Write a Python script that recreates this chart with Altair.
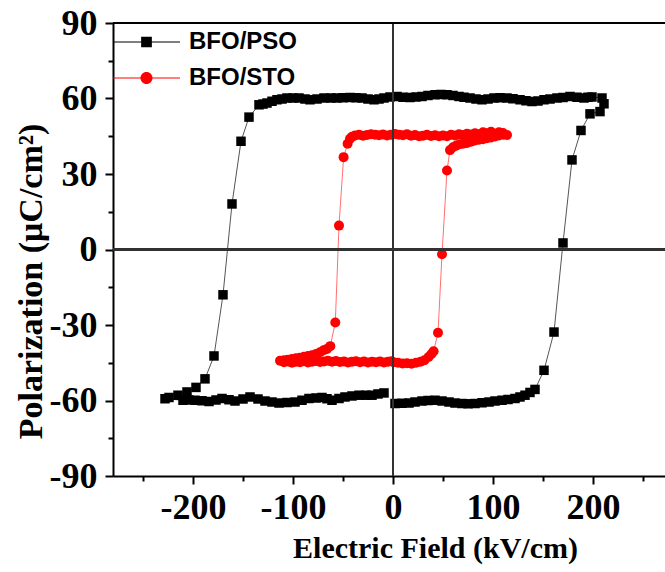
import altair as alt
import pandas as pd

series_names = ["BFO/PSO", "BFO/STO"]
series_colors = ["black", "red"]

pso_b1_E = [2, 9, 16, 22, 29, 35, 42, 49, 56, 62, 69, 75, 82, 89, 96, 102, 109, 115, 122, 127,
            132, 137, 142]
pso_b1_P = [-61.2, -61.1, -61.0, -60.6, -60.2, -60.0, -59.9, -60.2, -60.6, -61.0, -61.2, -61.3,
            -61.2, -60.9, -60.6, -60.2, -59.9, -59.6, -59.2, -58.6, -57.9, -56.8, -55.6]
pso_b2_E = [151, 161, 170, 179, 188, 197, 207, 211, 209]
pso_b2_P = [-48.0, -32.8, 2.6, 35.6, 47.3, 53.9, 54.8, 57.9, 60.2]
pso_b3_E = [199, 195, 191, 184, 177, 170, 164, 157, 151, 145, 139, 133, 127, 120, 114, 107, 101,
            95, 89, 83, 77, 71, 66, 60, 54, 48, 42, 35, 29, 23, 17, 10, 4, -3, -9, -14, -19, -25,
            -31, -37, -43, -50, -56, -62, -69, -76, -83, -88, -94, -100, -106, -111, -116, -121,
            -126, -130, -134]
pso_b3_P = [60.6, 60.5, 60.2, 60.5, 60.8, 60.4, 60.2, 59.8, 59.5, 59.0, 58.8, 59.1, 59.5, 59.9,
            60.2, 60.3, 60.2, 59.8, 59.5, 59.8, 60.2, 60.5, 60.8, 61.2, 61.5, 61.6, 61.5, 61.2,
            60.8, 60.6, 60.4, 60.5, 60.8, 60.6, 60.2, 59.8, 59.5, 59.8, 60.2, 60.3, 60.4, 60.3,
            60.2, 60.2, 60.2, 59.8, 59.5, 59.8, 60.2, 60.2, 60.2, 59.8, 59.5, 58.9, 58.2, 57.8, 57.5]
pso_b4_E = [-144, -152, -161, -170, -179, -188, -197, -206, -215, -224, -228]
pso_b4_P = [52.6, 43.0, 18.1, -18.0, -42.3, -51.4, -54.8, -56.6, -57.9, -58.8, -59.3]
pso_b5_E = [-210, -204, -198, -191, -184, -177, -171, -164, -158, -150, -143, -135, -128, -121,
            -114, -106, -98, -91, -84, -77, -71, -66, -61, -54, -48, -41, -34, -27, -21, -15, -9]
pso_b5_P = [-59.9, -59.8, -59.9, -60.1, -60.4, -59.8, -59.2, -59.7, -60.2, -59.4, -58.6, -59.4,
            -60.2, -60.6, -61.0, -60.8, -60.6, -59.9, -59.2, -59.0, -58.8, -59.3, -59.9, -59.2,
            -58.6, -58.2, -57.9, -57.9, -57.9, -57.4, -57.0]

# ---- BFO/STO loop ----
sto_b1_E = [0.6, 5, 9.5, 14, 18.5, 23, 27.5, 31.5, 35.6, 38.5, 40.6]
sto_b1_P = [-44.8, -45.0, -45.3, -45.2, -45.4, -45.0, -44.6, -44.0, -42.7, -41.5, -40.4]
sto_b2_E = [45, 49, 54, 57]
sto_b2_P = [-33.1, -1.9, 31.4, 39.5]
sto_b3_E = [60, 63, 66.5, 70, 74, 78, 82, 86, 90, 94, 98, 102, 106, 110.6, 114]
sto_b3_P = [40.6, 41.2, 41.8, 42.0, 42.3, 42.8, 43.3, 43.6, 43.8, 44.2, 44.5, 44.9, 45.3, 45.6, 45.5]
sto_b4_E = [110, 106, 102, 98, 94, 90, 86, 82, 78, 74, 70, 66, 62, 58, 54, 50, 46, 42, 38, 34,
            30, 26, 22, 18, 14, 10, 6, 2, -2, -6, -10, -14, -18, -22, -26, -30, -34, -38, -41, -43]
sto_b4_P = [46.3, 46.6, 46.0, 46.8, 46.2, 46.6, 45.8, 46.2, 45.7, 46.0, 45.5, 45.8, 45.3, 45.6, 45.0,
            45.3, 45.0, 45.4, 45.1, 45.6, 45.2, 45.0, 45.5, 45.2, 45.8, 45.4, 45.6, 45.9, 45.6, 45.3,
            45.7, 45.4, 45.6, 45.8, 45.5, 45.2, 45.6, 45.3, 44.8, 44.0]
sto_b5_E = [-45.4, -49.4, -54, -57.7, -62.7]
sto_b5_P = [42.0, 36.7, 9.5, -29.0, -38.4]
sto_b6_E = [-66, -69.4, -73, -77, -81, -85, -89, -93, -97, -101, -105, -109, -113]
sto_b6_P = [-39.5, -40.0, -40.8, -41.5, -42.0, -42.3, -42.6, -43.0, -43.2, -43.5, -43.8, -44.0, -44.2]
sto_b7_E = [-109, -105, -101, -97, -93, -89, -85, -81, -77, -73, -69, -65, -61, -57, -53, -49,
            -45, -41, -37, -33, -29, -25, -21, -17, -13, -9, -5, -1.5]
sto_b7_P = [-44.8, -44.5, -45.0, -44.6, -44.8, -44.4, -44.9, -44.6, -44.3, -44.7, -44.5, -44.2,
            -44.6, -44.3, -44.7, -44.5, -44.9, -44.6, -44.4, -44.8, -44.5, -44.9, -44.6, -44.8,
            -44.5, -44.9, -44.6, -44.4]

x_ticks = [-250, -200, -150, -100, -50, 0, 50, 100, 150, 200, 250]
y_ticks = [-90, -75, -60, -45, -30, -15, 0, 15, 30, 45, 60, 75, 90]

pso_E = pso_b1_E + pso_b2_E + pso_b3_E + pso_b4_E + pso_b5_E
pso_P = pso_b1_P + pso_b2_P + pso_b3_P + pso_b4_P + pso_b5_P
sto_E = sto_b1_E + sto_b2_E + sto_b3_E + sto_b4_E + sto_b5_E + sto_b6_E + sto_b7_E
sto_P = sto_b1_P + sto_b2_P + sto_b3_P + sto_b4_P + sto_b5_P + sto_b6_P + sto_b7_P

pso = pd.DataFrame({"E": pso_E, "P": pso_P, "i": list(range(len(pso_E))), "series": series_names[0]})
sto = pd.DataFrame({"E": sto_E, "P": sto_P, "i": list(range(len(sto_E))), "series": series_names[1]})
both = pd.concat([pso, sto], ignore_index=True)

SERIF = "Liberation Serif"
SANS = "Liberation Sans"
X_TITLE = "Electric Field (kV/cm)"
Y_TITLE = "Polarization (μC/cm²)"

xs = alt.Scale(domain=[-280, 272], nice=False, zero=False)
ys = alt.Scale(domain=[-90, 90], nice=False, zero=False)

x_axis = alt.Axis(
    values=x_ticks,
    labelExpr="datum.value % 100 === 0 ? '' + datum.value : ''",
    tickSize={"condition": {"test": "datum.value % 100 === 0", "value": 8}, "value": 5},
    tickWidth=2, tickColor="black", domainColor="black", domainWidth=2,
    labelFont=SERIF, labelFontWeight="bold", labelFontSize=36, labelColor="black",
    labelPadding=6, labelOverlap=False, labelFlush=False, grid=False,
    titleFont=SERIF, titleFontWeight="bold", titleFontSize=30, titleColor="black",
    titleX=322, titleY=81, titleBaseline="alphabetic", titleAlign="center",
)
y_axis = alt.Axis(
    values=y_ticks,
    labelExpr="datum.value % 30 === 0 ? '' + datum.value : ''",
    tickSize={"condition": {"test": "datum.value % 30 === 0", "value": 8}, "value": 5},
    tickWidth=2, tickColor="black", domainColor="black", domainWidth=2,
    labelFont=SERIF, labelFontWeight="bold", labelFontSize=36, labelColor="black",
    labelPadding=8, labelOverlap=False, labelFlush=False, grid=False,
    titleFont=SERIF, titleFontWeight="bold", titleFontSize=34, titleColor="black",
    titleX=-72, titleY=258, titleBaseline="alphabetic", titleAlign="center",
)

X = alt.X("E:Q", scale=xs, axis=x_axis, title=X_TITLE)
Y = alt.Y("P:Q", scale=ys, axis=y_axis, title=Y_TITLE)

pso_line = alt.Chart(pso).mark_line(color="#555555", strokeWidth=1).encode(x=X, y=Y, order="i:Q")
sto_line = alt.Chart(sto).mark_line(color="#ff7070", strokeWidth=1).encode(x=X, y=Y, order="i:Q")
pso_pts = alt.Chart(pso).mark_point(shape="square", filled=True, size=90, color="black",
                                    opacity=1, strokeWidth=0).encode(x=X, y=Y)
sto_pts = alt.Chart(sto).mark_point(shape="circle", filled=True, size=100, color="red",
                                    opacity=1, strokeWidth=0).encode(x=X, y=Y)

zero_v = alt.Chart(pso).mark_rule(color="#333333", strokeWidth=1.5).encode(
    x=alt.XDatum(0, scale=xs, axis=x_axis, title=X_TITLE))
zero_h = alt.Chart(pso).mark_rule(color="#333333", strokeWidth=1.5).encode(
    y=alt.YDatum(0, scale=ys, axis=y_axis, title=Y_TITLE))
top_frame = alt.Chart(pso).mark_rule(color="black", strokeWidth=2).encode(
    y=alt.YDatum(90, scale=ys, axis=y_axis, title=Y_TITLE))

# legend symbols: thin line with marker in the middle
path_sq = "M-1,-0.012H1V0.012H-1Z M-0.16,-0.16H0.16V0.16H-0.16Z"
path_ci = "M-1,-0.012H1V0.012H-1Z M0.18,0A0.18,0.18,0,1,1,-0.18,0A0.18,0.18,0,1,1,0.18,0Z"

leg = alt.Legend(
    title=None, orient="none", legendX=0, legendY=1, padding=0,
    symbolSize=4489, symbolStrokeWidth=0, symbolOpacity=1,
    labelFont=SANS, labelFontWeight="bold", labelFontSize=24, labelColor="black",
    labelOffset=9, clipHeight=36, rowPadding=0,
)
legend_layer = alt.Chart(both).mark_point(size=0, filled=True, opacity=1).encode(
    x=X, y=Y,
    color=alt.Color("series:N", scale=alt.Scale(domain=series_names, range=series_colors), legend=leg),
    shape=alt.Shape("series:N", scale=alt.Scale(domain=series_names, range=[path_sq, path_ci]), legend=leg),
)

chart = alt.layer(
    pso_line, sto_line, pso_pts, sto_pts, zero_v, zero_h, top_frame, legend_layer
).properties(
    width=552, height=453,
    padding={"left": 113, "top": 23, "right": 0, "bottom": 96},
    autosize=alt.AutoSizeParams(type="none"),
    background="white",
).configure_view(stroke=None)

chart.save("out.html", embed_options={"renderer": "svg", "actions": False})
